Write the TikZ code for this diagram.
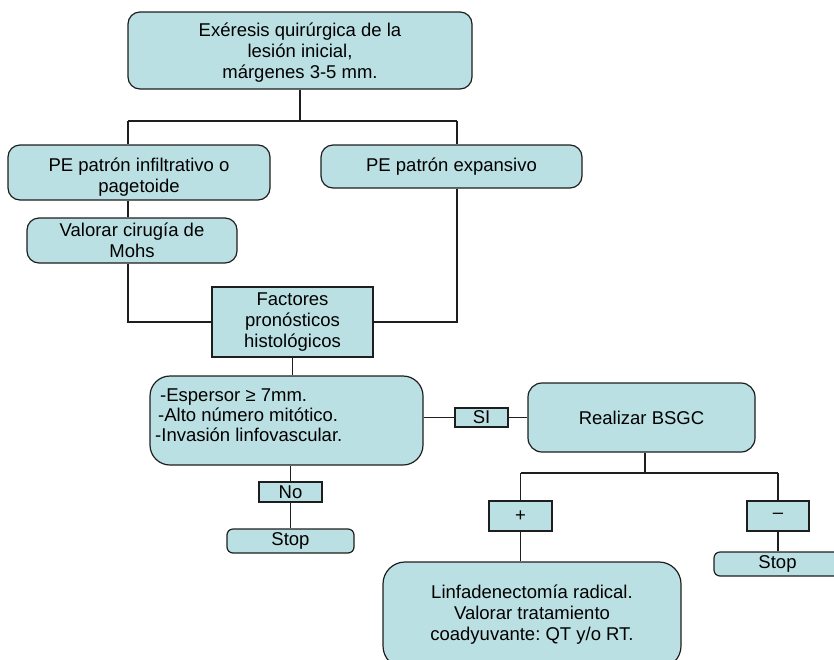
\documentclass[tikz,border=0pt]{standalone}
\usepackage{fontspec}
\setmainfont{Liberation Sans}
\frenchspacing
\definecolor{boxfill}{HTML}{BBE0E3}
\definecolor{edge}{HTML}{1E1E1E}
\begin{document}
\begin{tikzpicture}[x=1pt,y=-1pt,
  base/.style={draw=edge, fill=boxfill, line width=1.2pt, font=\fontsize{18.5}{21}\selectfont, align=center, inner sep=0pt, text=black},
  rbox/.style={base, rounded corners=12pt},
  bigrbox/.style={base, rounded corners=20pt},
  smallrbox/.style={base, rounded corners=6pt},
  sbox/.style={base},
  conn/.style={line width=1.2pt, draw=edge}]
\useasboundingbox (0,0) rectangle (834,659);
\clip (0,0) rectangle (834,659);

% boxes
\node[rbox, minimum width=344, minimum height=77] (top) at (300,50.5)
  {\rule{0pt}{18pt}Exéresis quirúrgica de la\\lesión inicial,\\márgenes 3-5 mm.};
\node[rbox, minimum width=262, minimum height=55] (inf) at (139,172.5)
  {\rule{0pt}{22pt}PE patrón infiltrativo o\\pagetoide};
\node[rbox, minimum width=261, minimum height=43] (exp) at (451.5,166.5)
  {PE patrón expansivo};
\node[rbox, minimum width=210, minimum height=45] (mohs) at (132,240.5)
  {Valorar cirugía de\\Mohs};
\node[sbox, minimum width=161, minimum height=70] (fact) at (292.5,322)
  {Factores\\pronósticos\\histológicos};
\node[bigrbox, minimum width=273, minimum height=89] (crit) at (286.5,420.5) {};
\node[font=\fontsize{18.5}{20}\selectfont, align=left, inner sep=0pt, anchor=west] (crittext) at (155,415)
  {\hspace*{5pt}-Espersor ≥ 7mm.\\\hspace*{3pt}-Alto número mitótico.\\-Invasión linfovascular.};
\node[sbox, minimum width=53, minimum height=19] (si) at (481.5,417.5) {SI};
\node[rbox, rounded corners=14pt, minimum width=227, minimum height=69] (bsgc) at (641.5,417.5)
  {Realizar BSGC};
\node[sbox, minimum width=63, minimum height=20] (no) at (290.5,492) {No};
\node[smallrbox, minimum width=127, minimum height=24] (stopa) at (290.5,541) {Stop};
\node[sbox, minimum width=63, minimum height=30] (plus) at (520.5,516) {+};
\node[sbox, minimum width=62, minimum height=30] (minus) at (778,516) {–};
\node[smallrbox, minimum width=127, minimum height=24] (stopb) at (777.5,564) {Stop};
\node[bigrbox, rounded corners=22pt, minimum width=298, minimum height=106] (linfa) at (532,615)
  {Linfadenectomía radical.\\Valorar tratamiento\\coadyuvante: QT y/o RT.};

% connectors
\coordinate (jl) at (128,121);
\coordinate (jr) at (457,121);
\draw[conn] (top.south) -- (top.south |- jl);
\draw[conn] (jl) -- (jr);
\draw[conn] (jl) -- (jl |- inf.north);
\draw[conn] (jr) -- (jr |- exp.north);
\draw[conn] (jl |- inf.south) -- (jl |- mohs.north);
\draw[conn] (jl |- mohs.south) -- (jl |- fact.west) -- (fact.west);
\draw[conn] (jr |- exp.south) -- (jr |- fact.east) -- (fact.east);
\draw[conn] (fact.south) -- (fact.south |- crit.north);
\draw[conn] (si.west -| crit.east) -- (si.west);
\draw[conn] (si.east) -- (bsgc.west);
\draw[conn] (no.north |- crit.south) -- (no.north);
\draw[conn] (no.south) -- (stopa.north);
\coordinate (jb) at (645,473);
\draw[conn] (jb |- bsgc.south) -- (jb);
\draw[conn] (plus.north |- jb) -- (minus.north |- jb);
\draw[conn] (plus.north |- jb) -- (plus.north);
\draw[conn] (minus.north |- jb) -- (minus.north);
\draw[conn] (plus.south) -- (plus.south |- linfa.north);
\draw[conn] (minus.south) -- (minus.south |- stopb.north);
\end{tikzpicture}
\end{document}
